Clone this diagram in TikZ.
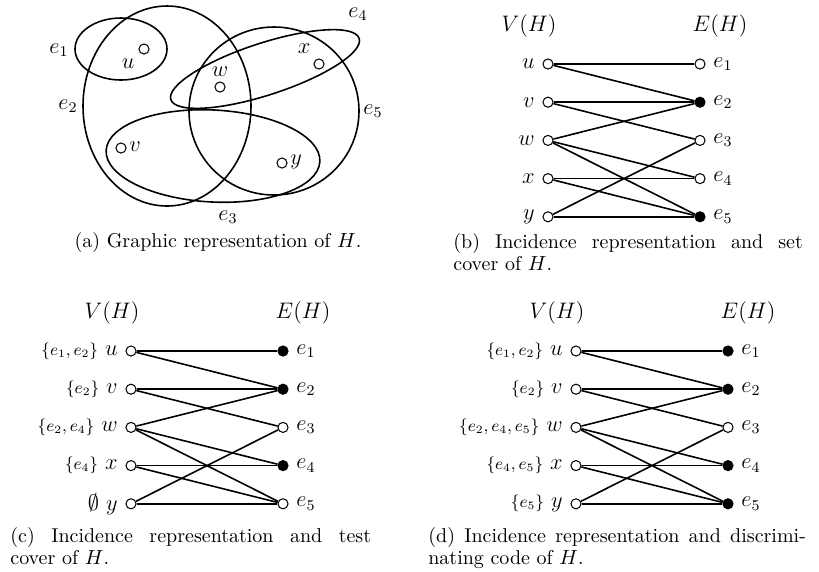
\documentclass[tikz,border=0pt]{standalone}
\begin{document}
\begin{tikzpicture}[x=0.535pt,y=-0.535pt,
  vtx/.style={circle,draw,line width=0.55pt,fill=white,inner sep=0pt,minimum size=5.4pt},
  vfull/.style={vtx,fill=black},
  con/.style={line width=0.85pt},
  hedge/.style={line width=0.85pt},
  lab/.style={inner sep=0pt,font=\fontsize{11.5}{14}\selectfont},
  captxt/.style={inner sep=0pt,font=\fontsize{10.7}{11.8}\selectfont,align=justify}
]
\useasboundingbox (0,0) rectangle (819,571);
\newcommand\bip[4]{%
\begin{scope}[shift={#2},name prefix=#1]
 \foreach \n [count=\k from 0] in {u,v,w,x,y} \node[vtx] (\n) at (0,{\k*38.2}) {};
 \foreach \s [count=\k] in {#3} {\node[\s] (e\k) at (152,{(\k-1)*38.2}) {};
   \node[lab,anchor=west] at (165,{(\k-1)*38.2}) {$e_\k$};}
 \foreach \a/\b in {u/e1,u/e2,v/e2,v/e3,w/e2,w/e4,w/e5,x/e4,x/e5,y/e3,y/e5} \draw[con] (\a) -- (\b);
 \node[lab] at (-19,-38) {$V(H)$};
 \node[lab] at (172,-38) {$E(H)$};
 \foreach \t [count=\k from 0] in {#4} \node[lab,anchor=east] at (-13,{\k*38.2}) {\t};
\end{scope}}
% ---------- (a)
\draw[hedge] (121,49) ellipse [x radius=46,y radius=31];
\draw[hedge] (167,106) ellipse [x radius=84,y radius=100];
\draw[hedge] (274,111) ellipse [x radius=85,y radius=84];
\draw[hedge,rotate around={18:(265,69)}] (265,69) ellipse [x radius=99,y radius=26];
\draw[hedge,rotate around={-3:(213,156)}] (213,156) ellipse [x radius=107,y radius=46];
\node[vtx] (au) at (144,49) {};
\node[vtx] (aw) at (220,87) {};
\node[vtx] (ax) at (319,64) {};
\node[vtx] (av) at (121,148) {};
\node[vtx] (ay) at (282,163) {};
\node[lab] at (128,64) {$u$};
\node[lab] at (220,72) {$w$};
\node[lab] at (304,49) {$x$};
\node[lab,anchor=west] at (129,147) {$v$};
\node[lab,anchor=west] at (290,162) {$y$};
\node[lab] at (59,50) {$e_1$};
\node[lab] at (68,106) {$e_2$};
\node[lab] at (228,217) {$e_3$};
\node[lab] at (358,14) {$e_4$};
\node[lab] at (373,111) {$e_5$};
\node[captxt,anchor=base] at (218,247) {(a)\ Graphic representation of $H$.};
% ---------- (b)
\bip{b-}{(548,64)}{vtx,vfull,vtx,vtx,vfull}{$u$,$v$,$w$,$x$,$y$}
\node[captxt,text width=187pt,anchor=north west] at (453,233) {(b)\ Incidence representation and set\linebreak cover of $H$.};
% ---------- (c)
\bip{c-}{(131,351)}{vfull,vfull,vtx,vfull,vtx}{{{\fontsize{9}{11}\selectfont$\{e_1,e_2\}$} $u$},{{\fontsize{9}{11}\selectfont$\{e_2\}$} $v$},{{\fontsize{9}{11}\selectfont$\{e_2,e_4\}$} $w$},{{\fontsize{9}{11}\selectfont$\{e_4\}$} $x$},{$\emptyset$ $y$}}
\node[captxt,text width=193pt,anchor=north west] at (10,527) {(c)\ Incidence representation and test\linebreak cover of $H$.};
% ---------- (d)
\bip{d-}{(576,351)}{vfull,vfull,vtx,vfull,vfull}{{{\fontsize{9}{11}\selectfont$\{e_1,e_2\}$} $u$},{{\fontsize{9}{11}\selectfont$\{e_2\}$} $v$},{{\fontsize{9}{11}\selectfont$\{e_2,e_4,e_5\}$} $w$},{{\fontsize{9}{11}\selectfont$\{e_4,e_5\}$} $x$},{{\fontsize{9}{11}\selectfont$\{e_5\}$} $y$}}
\node[captxt,text width=202pt,anchor=north west] at (428,527) {(d)\ Incidence representation and discrimi-\linebreak nating code of $H$.};
\end{tikzpicture}
\end{document}
